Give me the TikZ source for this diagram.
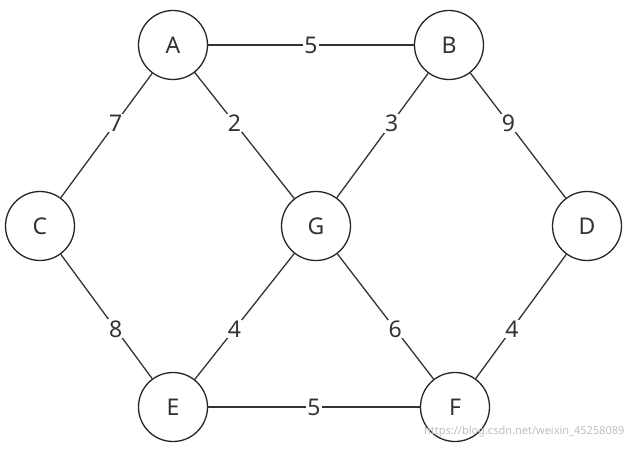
\documentclass[tikz,border=0pt]{standalone}
\usepackage{fontspec}
\setmainfont{Noto Sans}
\begin{document}
\begin{tikzpicture}[x=1pt,y=-1pt,
  vert/.style={circle,draw=black!85,line width=1.3pt,minimum size=69pt,inner sep=0pt,font=\fontsize{23}{26}\selectfont,text=black!80},
  edge/.style={draw=black!80,line width=1.3pt},
  lab/.style={fill=white,inner sep=1pt,font=\fontsize{23}{26}\selectfont,text=black!80}]
\useasboundingbox (0,0) rectangle (632,449);
\fill[white] (0,0) rectangle (632,449);
\node[vert] (A) at (173,45) {A};
\node[vert] (B) at (449,45) {B};
\node[vert] (C) at (40,226) {C};
\node[vert] (G) at (316,226) {G};
\node[vert] (D) at (587,226) {D};
\node[vert] (E) at (173,407) {E};
\node[vert] (F) at (455,407) {F};
\path[edge] (A) -- (B) node[lab,pos=0.5] (l1) {5};
\path[edge] (A) -- (C) node[lab,pos=0.4] (l2) {7};
\path[edge] (A) -- (G) node[lab,pos=0.4] (l3) {2};
\path[edge] (B) -- (G) node[lab,pos=0.4] (l4) {3};
\path[edge] (B) -- (D) node[lab,pos=0.4] (l5) {9};
\path[edge] (C) -- (E) node[lab,pos=0.6] (l6) {8};
\path[edge] (G) -- (E) node[lab,pos=0.6] (l7) {4};
\path[edge] (G) -- (F) node[lab,pos=0.6] (l8) {6};
\path[edge] (D) -- (F) node[lab,pos=0.6] (l9) {4};
\path[edge] (E) -- (F) node[lab,pos=0.5] (l10) {5};
\node[text=black!25,font=\fontsize{11}{13}\selectfont,anchor=east] (wm) at (628,432) {https://blog.csdn.net/weixin\_45258089};
\end{tikzpicture}
\end{document}
